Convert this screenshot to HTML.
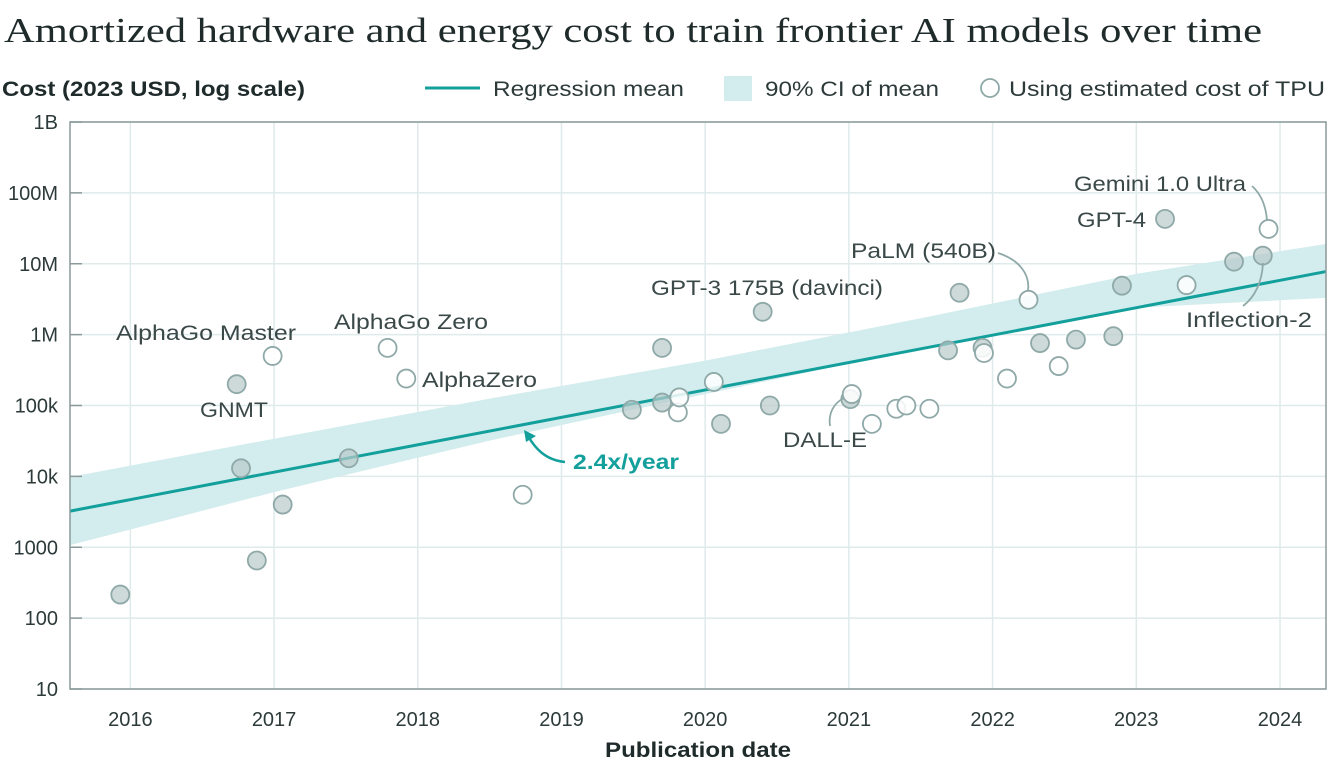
<!DOCTYPE html>
<html><head><meta charset="utf-8">
<style>
body{margin:0;background:#fff;width:1329px;height:764px;overflow:hidden}
svg text{font-family:"Liberation Sans",sans-serif}
</style></head>
<body>
<svg id="chart" width="1329" height="764" xmlns="http://www.w3.org/2000/svg">
<text x="4" y="42" style="font-family:'Liberation Serif',serif" font-size="35" textLength="1258" lengthAdjust="spacingAndGlyphs" fill="#1f2a2a">Amortized hardware and energy cost to train frontier AI models over time</text>
<text x="2" y="96" font-size="21" font-weight="bold" textLength="303" lengthAdjust="spacingAndGlyphs" fill="#1f2a2a">Cost (2023 USD, log scale)</text>
<g>
<line x1="425" y1="88" x2="480" y2="88" stroke="#13a09c" stroke-width="3"/>
<text x="493" y="96" font-size="21" textLength="191" lengthAdjust="spacingAndGlyphs" fill="#2d3a3a">Regression mean</text>
<rect x="724" y="76" width="28" height="25" fill="#d3eced"/>
<text x="765" y="96" font-size="21" textLength="174" lengthAdjust="spacingAndGlyphs" fill="#2d3a3a">90% CI of mean</text>
<circle cx="990" cy="88" r="9" fill="#fff" stroke="#8fa9a8" stroke-width="1.8"/>
<text x="1009" y="96" font-size="21" textLength="316" lengthAdjust="spacingAndGlyphs" fill="#2d3a3a">Using estimated cost of TPU</text>
</g>
<g id="grid"></g><g id="band"></g><g id="axes"></g><g id="marks"></g><g id="ann"></g>
<text x="698" y="757" font-size="21" font-weight="bold" textLength="186" lengthAdjust="spacingAndGlyphs" text-anchor="middle" fill="#1f2a2a">Publication date</text>
</svg>
<script>
const yTicks=[10,100,1000,1e4,1e5,1e6,1e7,1e8,1e9];
const yTickLabels=["10","100","1000","10k","100k","1M","10M","100M","1B"];
const xTicks=[2016,2017,2018,2019,2020,2021,2022,2023,2024];
const filledDates=[2015.93,2016.74,2016.77,2016.88,2017.06,2017.52,2019.49,2019.70,2019.70,2020.11,2020.40,2020.45,2021.01,2021.69,2021.77,2021.93,2022.33,2022.58,2022.84,2022.90,2023.20,2023.68,2023.88];
const filledCosts=[215,200e3,13e3,650,4000,18e3,87e3,650e3,110e3,55e3,2.1e6,100e3,123e3,600e3,3.9e6,650e3,760e3,850e3,950e3,4.9e6,43e6,10.7e6,13e6];
const tpuDates=[2016.99,2017.79,2017.92,2018.73,2019.81,2019.82,2020.06,2021.02,2021.16,2021.33,2021.40,2021.56,2021.94,2022.10,2022.25,2022.46,2023.35,2023.92];
const tpuCosts=[500e3,650e3,240e3,5.5e3,80e3,130e3,215e3,145e3,55e3,90e3,100e3,90e3,550e3,240e3,3.1e6,360e3,5e6,31e6];
const regDates=[2015.58,2024.32];
const regCosts=[3236,7.76e6];
const bandDates=[2015.58,2017,2018.5,2020,2021.5,2023,2024.32];
const bandLow=[1070,6000,32e3,145e3,640e3,2.4e6,3.3e6];
const bandHigh=[9800,34e3,125e3,430e3,1.7e6,7.2e6,19e6];

const X0=70,X1=1326,Y0=122,Y1=689,D0=2015.58,D1=2024.32;
const x=d=>X0+(d-D0)/(D1-D0)*(X1-X0);
const y=v=>Y0+(9-Math.log10(v))/8*(Y1-Y0);
const NS="http://www.w3.org/2000/svg";
function mk(parent,tag,attrs){const e=document.createElementNS(NS,tag);for(const k in attrs)e.setAttribute(k,attrs[k]);document.getElementById(parent).appendChild(e);return e;}

xTicks.forEach((t,i)=>{
 const g=mk('grid','line',{x1:x(t),x2:x(t),y1:Y0,y2:Y1,stroke:'#dfeaea','stroke-width':1.5});
 
 
 const tl=mk('axes','text',{x:x(t),y:726,'font-size':20,'text-anchor':'middle',fill:'#2d3a3a'});
 tl.textContent=t;
 
 
});
yTicks.forEach((t,i)=>{
 const g=mk('grid','line',{x1:X0,x2:X1,y1:y(t),y2:y(t),stroke:'#dfeaea','stroke-width':1.5});
 
 
 const tk=mk('axes','line',{x1:X0,x2:X0+12,y1:y(t),y2:y(t),stroke:'#8a9a9a','stroke-width':1.5});
 
 
 const tl=mk('axes','text',{x:58,y:y(t)+7,'font-size':20,'text-anchor':'end',fill:'#2d3a3a'});
 tl.textContent=yTickLabels[i];
 
 
});
const fr=mk('axes','rect',{x:X0,y:Y0,width:X1-X0,height:Y1-Y0,fill:'none',stroke:'#8a9a9a','stroke-width':1.5});



let pts=bandDates.map((d,i)=>x(d)+','+y(bandHigh[i]));
pts=pts.concat(bandDates.map((d,i)=>x(d)+','+y(bandLow[i])).reverse());
const band=mk('band','polygon',{points:pts.join(' '),fill:'#d3eced'});


const reg=mk('band','line',{x1:x(regDates[0]),y1:y(regCosts[0]),x2:x(regDates[1]),y2:y(regCosts[1]),stroke:'#13a09c','stroke-width':3});



filledDates.forEach((d,i)=>{
 const c=mk('marks','circle',{cx:x(d),cy:y(filledCosts[i]),r:9,fill:'#b9cbcb','fill-opacity':0.7,stroke:'#8fa9a8','stroke-width':1.8});
 
 
});
tpuDates.forEach((d,i)=>{
 const c=mk('marks','circle',{cx:x(d),cy:y(tpuCosts[i]),r:9,fill:'#fff','fill-opacity':0.85,stroke:'#8fa9a8','stroke-width':1.8});
 
 
});

const labels=[["AlphaGo Master",116,340,180],["GNMT",200,417,68],["AlphaGo Zero",334,329,154],["AlphaZero",422,387,115],["GPT-3 175B (davinci)",651,295,232],["PaLM (540B)",851,258,145],["Gemini 1.0 Ultra",1074,191,172],["GPT-4",1077,227,69],["Inflection-2",1186,327,126],["DALL-E",783,447,84]];
labels.forEach(l=>{
 const t=mk('ann','text',{x:l[1],y:l[2],'font-size':21,fill:'#3a4848',textLength:l[3],lengthAdjust:'spacingAndGlyphs'});
 t.textContent=l[0];
 
 
});
const conns=["M998,253 C1020,260 1030,275 1028,290","M1252,186 C1262,195 1266,208 1267,220","M1263,263 C1262,282 1255,297 1243,306","M830,426 C828,413 834,403 844,398"];
conns.forEach(p=>{
 const c=mk('ann','path',{d:p,fill:'none',stroke:'#8fa9a8','stroke-width':1.8});
 
 
});
const gt=mk('ann','text',{x:573,y:469,'font-size':21,'font-weight':'bold',fill:'#13a09c',textLength:106,lengthAdjust:'spacingAndGlyphs'});
gt.textContent='2.4x/year';


const ga=mk('ann','path',{d:'M565,462 C545,460 535,448 528,436',fill:'none',stroke:'#13a09c','stroke-width':2.5});


const gh=mk('ann','polygon',{points:'524,430 536,436 526,442',fill:'#13a09c'});


</script>
</body></html>
